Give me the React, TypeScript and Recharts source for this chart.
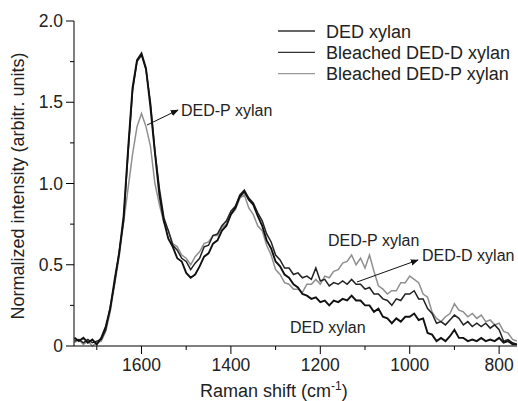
import React from "react";
import { LineChart, Line, XAxis, YAxis } from "recharts";

// Raman shift, cm-1 (every 10 cm-1, high to low)
const shift = [
  1750, 1740, 1730, 1720, 1710, 1700, 1690, 1680, 1670, 1660,
  1650, 1640, 1630, 1620, 1610, 1600, 1590, 1580, 1570, 1560,
  1550, 1540, 1530, 1520, 1510, 1500, 1490, 1480, 1470, 1460,
  1450, 1440, 1430, 1420, 1410, 1400, 1390, 1380, 1370, 1360,
  1350, 1340, 1330, 1320, 1310, 1300, 1290, 1280, 1270, 1260,
  1250, 1240, 1230, 1220, 1210, 1200, 1190, 1180, 1170, 1160,
  1150, 1140, 1130, 1120, 1110, 1100, 1090, 1080, 1070, 1060,
  1050, 1040, 1030, 1020, 1010, 1000, 990, 980, 970, 960,
  950, 940, 930, 920, 910, 900, 890, 880, 870, 860,
  850, 840, 830, 820, 810, 800, 790, 780, 770, 760,
];

const dedXylan = [
  0.05, 0.03, 0.05, 0.02, 0.04, 0.01, 0.05, 0.12, 0.23, 0.41,
  0.57, 0.8, 1.21, 1.59, 1.76, 1.8, 1.71, 1.47, 1.19, 0.93,
  0.77, 0.66, 0.61, 0.54, 0.52, 0.45, 0.42, 0.44, 0.49, 0.55,
  0.57, 0.63, 0.65, 0.71, 0.74, 0.81, 0.85, 0.92, 0.95, 0.9,
  0.87, 0.8, 0.74, 0.65, 0.6, 0.52, 0.49, 0.44, 0.42, 0.38,
  0.36, 0.32, 0.31, 0.29, 0.3, 0.27, 0.28, 0.25, 0.28, 0.27,
  0.29, 0.28, 0.31, 0.28, 0.28, 0.25, 0.25, 0.21, 0.23, 0.18,
  0.17, 0.14, 0.17, 0.15, 0.18, 0.18, 0.2, 0.16, 0.17, 0.08,
  0.07, 0.03, 0.05, 0.03, 0.06, 0.1, 0.05, 0.05, 0.03, 0.04,
  0.03, 0.05, 0.03, 0.04, 0.03, 0.05, 0.02, 0.03, 0.01, 0.01,
];

const bleachedD = [
  0.03, 0.04, 0.02, 0.04, 0.02, 0.03, 0.04, 0.1, 0.24, 0.39,
  0.58, 0.77, 1.19, 1.57, 1.75, 1.79, 1.7, 1.5, 1.2, 0.97,
  0.79, 0.71, 0.62, 0.59, 0.54, 0.52, 0.47, 0.51, 0.54, 0.61,
  0.62, 0.68, 0.69, 0.74, 0.77, 0.83, 0.86, 0.93, 0.96, 0.91,
  0.88, 0.82, 0.77, 0.69, 0.64, 0.56, 0.53, 0.48, 0.48, 0.44,
  0.45, 0.42, 0.43, 0.41, 0.48, 0.4, 0.41, 0.37, 0.39, 0.38,
  0.4, 0.38, 0.41, 0.38, 0.38, 0.35, 0.36, 0.32, 0.32, 0.29,
  0.28, 0.25, 0.29, 0.28, 0.32, 0.32, 0.34, 0.29, 0.29, 0.23,
  0.2, 0.14, 0.15, 0.13, 0.16, 0.19, 0.17, 0.13, 0.15, 0.12,
  0.14, 0.12, 0.14, 0.11, 0.13, 0.1, 0.03, 0.04, 0.02, 0.01,
];

const bleachedP = [
  0.02, 0.04, 0.01, 0.03, 0.0, 0.02, 0.03, 0.09, 0.21, 0.38,
  0.55, 0.76, 0.97, 1.18, 1.35, 1.43, 1.35, 1.23, 1.0, 0.87,
  0.76, 0.71, 0.63, 0.61, 0.56, 0.54, 0.5, 0.55, 0.58, 0.63,
  0.64, 0.68, 0.68, 0.73, 0.75, 0.81, 0.84, 0.91, 0.93, 0.85,
  0.81, 0.74, 0.71, 0.62, 0.56, 0.47, 0.44, 0.39, 0.38, 0.35,
  0.35, 0.33, 0.38, 0.38, 0.41, 0.38, 0.43, 0.42, 0.46, 0.47,
  0.51, 0.52, 0.56, 0.5, 0.54, 0.48, 0.56, 0.46, 0.37, 0.35,
  0.32, 0.34, 0.34, 0.39, 0.39, 0.43, 0.41, 0.39, 0.32, 0.3,
  0.21, 0.17, 0.15, 0.18, 0.2, 0.26, 0.22, 0.21, 0.18, 0.2,
  0.17, 0.19, 0.15, 0.16, 0.13, 0.14, 0.09, 0.08, 0.04, 0.03,
];

const xTicks = [1700, 1600, 1500, 1400, 1300, 1200, 1100, 1000, 900, 800];
const yTicks = [0, 0.25, 0.5, 0.75, 1, 1.25, 1.5, 1.75, 2];

const series = [
  { key: "dedP", name: "Bleached DED-P xylan", color: "#8f8f8f", width: 1.5 },
  { key: "dedD", name: "Bleached DED-D xylan", color: "#222222", width: 1.5 },
  { key: "ded", name: "DED xylan", color: "#111111", width: 1.9 },
];
const legendOrder = ["ded", "dedD", "dedP"];

const rows = shift.map((s, i) => ({
  shift: s,
  ded: dedXylan[i],
  dedD: bleachedD[i],
  dedP: bleachedP[i],
}));

const FONT = "'Liberation Sans', Arial, sans-serif";

function YTick({ x, y, payload }: any) {
  const v = payload.value;
  const major = Math.abs(v * 2 - Math.round(v * 2)) < 1e-6;
  return (
    <g>
      <line x1={x - (major ? 8 : 4)} x2={x} y1={y} y2={y} stroke="#000" />
      {major && (
        <text x={x - 11} y={y + 6} textAnchor="end" fontSize={17.5} fontFamily={FONT} fill="#222">
          {v === 0 ? "0" : v.toFixed(1)}
        </text>
      )}
    </g>
  );
}

function XTick({ x, y, payload }: any) {
  const v = payload.value;
  const major = v % 200 === 0;
  return (
    <g>
      <line x1={x} x2={x} y1={y} y2={y + (major ? 8 : 4)} stroke="#000" />
      {major && (
        <text x={x} y={y + 25} textAnchor="middle" fontSize={17.5} fontFamily={FONT} fill="#222">
          {v}
        </text>
      )}
    </g>
  );
}

export default function App() {
  return (
    <div style={{ position: "relative", width: 518, height: 401, background: "#fff", fontFamily: FONT }}>
      <style>{`body{margin:0}`}</style>
      <LineChart width={518} height={401} data={rows} margin={{ top: 21, right: 1, bottom: 0, left: 0 }}>
        <XAxis
          dataKey="shift"
          type="number"
          domain={[760, 1751]}
          reversed
          allowDataOverflow
          ticks={xTicks}
          interval={0}
          height={55}
          tickSize={0}
          tickMargin={0}
          tick={<XTick />}
          axisLine={{ stroke: "#000" }}
        />
        <YAxis
          type="number"
          domain={[0, 2]}
          ticks={yTicks}
          interval={0}
          width={74}
          tickSize={0}
          tickMargin={0}
          tick={<YTick />}
          axisLine={{ stroke: "#000" }}
        />
        {series.map((s) => (
          <Line
            key={s.key}
            dataKey={s.key}
            name={s.name}
            type="linear"
            stroke={s.color}
            strokeWidth={s.width}
            strokeLinejoin="miter"
            dot={false}
            isAnimationActive={false}
          />
        ))}
      </LineChart>

      {/* legend, titles and annotations */}
      <svg
        width={518}
        height={401}
        style={{ position: "absolute", left: 0, top: 0, pointerEvents: "none" }}
      >
        <defs>
          <marker id="ah" viewBox="0 0 10 10" refX="9" refY="5" markerWidth="8" markerHeight="8" orient="auto">
            <path d="M0,1 L10,5 L0,9 z" fill="#111" />
          </marker>
        </defs>

        {legendOrder.map((k, i) => {
          const s = series.find((d) => d.key === k)!;
          const cy = 31 + i * 21.3;
          return (
            <g key={k}>
              <line x1={278} x2={315} y1={cy} y2={cy} stroke={k === "dedP" ? "#999" : "#333"} strokeWidth={1.3} />
              <text x={326} y={cy + 6.5} fontSize={18} fontFamily={FONT} fill="#222">
                {s.name}
              </text>
            </g>
          );
        })}

        <text
          transform="translate(24,186) rotate(-90)"
          textAnchor="middle"
          fontSize={18}
          fontFamily={FONT}
          fill="#222"
        >
          Normalized intensity (arbitr. units)
        </text>
        <text x={200} y={397} fontSize={18} fontFamily={FONT} fill="#222">
          Raman shift (cm
          <tspan fontSize={12} dy={-7}>-1</tspan>
          <tspan dy={7}>)</tspan>
        </text>

        <line x1={147} y1={125} x2={178} y2={110} stroke="#111" strokeWidth={1} markerEnd="url(#ah)" />
        <text x={181} y={116} fontSize={16} fontFamily={FONT} fill="#222">DED-P xylan</text>

        <text x={328} y={246} fontSize={16} fontFamily={FONT} fill="#222">DED-P xylan</text>

        <line x1={357} y1={282} x2={418} y2={260} stroke="#111" strokeWidth={1} markerEnd="url(#ah)" />
        <text x={422} y={261} fontSize={16} fontFamily={FONT} fill="#222">DED-D xylan</text>

        <text x={290} y={333} fontSize={16} fontFamily={FONT} fill="#222">DED xylan</text>
      </svg>
    </div>
  );
}
